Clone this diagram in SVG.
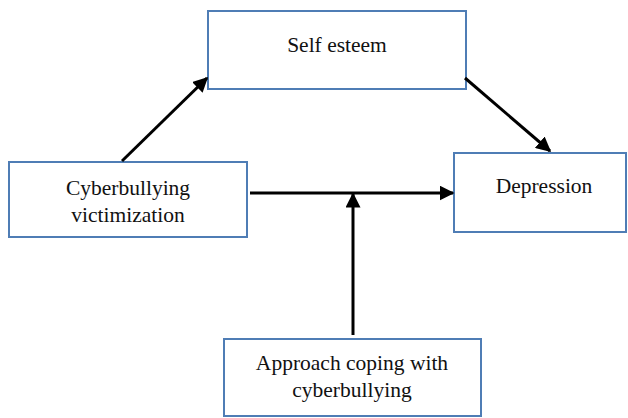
<svg xmlns="http://www.w3.org/2000/svg" width="628" height="418" viewBox="0 0 628 418">
<style>
.box{fill:#fff;stroke:#4f7db5;stroke-width:2}
.t{font-family:'Liberation Serif',serif;font-size:21.5px;fill:#111;text-anchor:middle}
.c{stroke:#000;stroke-width:3;fill:none;marker-end:url(#ah)}
</style>
<defs>
<marker id="ah" viewBox="0 0 10 10" refX="9" refY="5" markerWidth="5" markerHeight="5" orient="auto" markerUnits="strokeWidth">
<path d="M0,0 L10,5 L0,10 Z" fill="#000"/>
</marker>
</defs>
<rect width="628" height="418" fill="#fff"/>
<g id="self-esteem" font-family="Liberation Serif, serif"><rect class="box" x="208" y="11" width="258" height="78"/><text class="t" x="337" y="52">Self esteem</text></g>
<g id="cyberbullying-victimization" font-family="Liberation Serif, serif"><rect class="box" x="9" y="162" width="238" height="75"/><text class="t" x="128" y="195">Cyberbullying</text><text class="t" x="128" y="222">victimization</text></g>
<g id="depression" font-family="Liberation Serif, serif"><rect class="box" x="454" y="153" width="172" height="79"/><text class="t" x="544" y="193">Depression</text></g>
<g id="approach-coping" font-family="Liberation Serif, serif"><rect class="box" x="224" y="339" width="257" height="77"/><text class="t" x="352" y="370">Approach coping with</text><text class="t" x="352" y="397">cyberbullying</text></g>
<g id="connectors">
<line class="c" x1="122" y1="161" x2="207" y2="78"/>
<line class="c" x1="465" y1="78" x2="550" y2="151"/>
<line class="c" x1="250" y1="193" x2="453" y2="193"/>
<line class="c" x1="353" y1="335" x2="353" y2="194"/>
</g>
</svg>
